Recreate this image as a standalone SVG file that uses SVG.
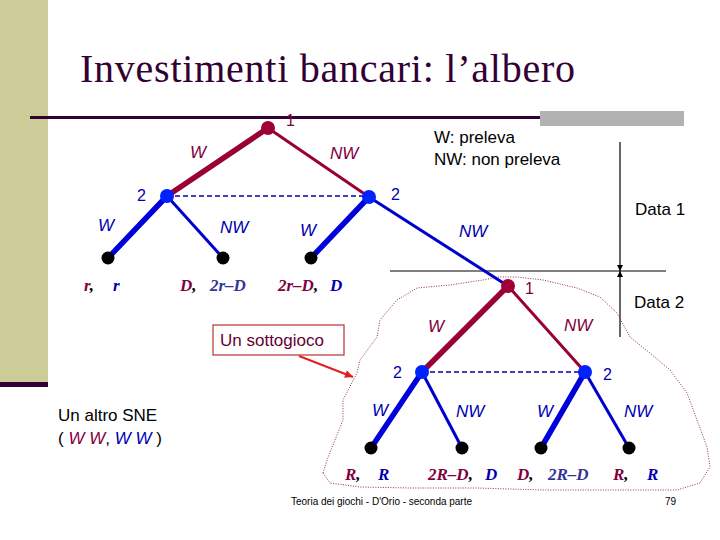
<svg xmlns="http://www.w3.org/2000/svg" width="720" height="540" viewBox="0 0 720 540">
<defs>
<style>
.sans{font-family:"Liberation Sans",Arial,sans-serif}
.lab{font-family:"Liberation Sans",Arial,sans-serif;font-style:italic;font-size:17px}
.pay{font-family:"Liberation Serif","Times New Roman",serif;font-style:italic;font-weight:bold;font-size:17px}
.m{fill:#800040}
.b{fill:#0000B0}
.bd{fill:#333399}
.num{font-family:"Liberation Sans",Arial,sans-serif;font-size:16px}
.e1t{stroke:#990033;stroke-width:5.5;stroke-linecap:round}
.e1n{stroke:#990033;stroke-width:3}
.e2t{stroke:#0000DD;stroke-width:5.5;stroke-linecap:round}
.e2n{stroke:#0000CC;stroke-width:3}
.dash{stroke:#0000AA;stroke-width:1.3;stroke-dasharray:5,3}
.n1{fill:#A00038}
.n2{fill:#0022FF}
.nt{fill:#000}
</style>
<marker id="tri" viewBox="0 0 10 10" refX="10" refY="5" markerWidth="6" markerHeight="6" orient="auto" markerUnits="userSpaceOnUse">
<path d="M0,0 L10,5 L0,10 z" fill="#000"/>
</marker>
<marker id="red" viewBox="0 0 10 10" refX="10" refY="5" markerWidth="10" markerHeight="8" orient="auto" markerUnits="userSpaceOnUse">
<path d="M0,0 L10,5 L0,10 z" fill="#E02020"/>
</marker>
</defs>
<rect width="720" height="540" fill="#fff"/>
<rect x="0" y="0" width="48" height="384" fill="#CCCC99"/>
<rect x="0" y="382" width="48" height="5" fill="#330033"/>
<line x1="30" y1="117.5" x2="541" y2="117.5" stroke="#330033" stroke-width="3"/>
<rect x="540" y="111" width="144" height="15" fill="#B2B2B2"/>
<text x="80" y="82" font-family="Liberation Serif,'Times New Roman',serif" font-size="40" fill="#330033" textLength="495">Investimenti bancari: l’albero</text>

<text class="sans" x="434" y="143" font-size="17">W: preleva</text>
<text class="sans" x="434" y="165" font-size="17">NW: non preleva</text>

<g id="timeline">
<line x1="390" y1="271" x2="666" y2="271" stroke="#000" stroke-width="1.2"/>
<line x1="620" y1="142" x2="620" y2="271" stroke="#000" stroke-width="1.2" marker-end="url(#tri)"/>
<line x1="620" y1="337" x2="620" y2="271" stroke="#000" stroke-width="1.2" marker-end="url(#tri)"/>
<text class="sans" x="635" y="215" font-size="17">Data 1</text>
<text class="sans" x="634" y="308" font-size="17">Data 2</text>
</g>

<path id="cloud" d="M323,473 L327,460 L343,420 L343,400 L357,373 L360,360 L377,337 L380,320 L397,300 L417,288 L450,285 L483,280 L497,277 L517,277 L543,280 L577,288 L600,297 L617,313 L630,337 L650,353 L670,370 L687,393 L697,420 L707,447 L710,467 L700,483 L677,490 L610,490 L543,490 L477,488 L410,488 L360,487 L330,483 Z" fill="none" stroke="#993333" stroke-width="1" stroke-dasharray="1,1.5"/>

<g id="connectors" fill="none">
<line class="e1t" x1="268" y1="128" x2="167" y2="196"/>
<line class="e1n" x1="268" y1="128" x2="369" y2="197"/>
<line class="dash" x1="167" y1="196" x2="369" y2="196"/>
<line class="e2t" x1="167" y1="196" x2="108" y2="258"/>
<line class="e2n" x1="167" y1="196" x2="223" y2="258"/>
<line class="e2t" x1="369" y1="197" x2="311" y2="258"/>
<line class="e2n" x1="369" y1="197" x2="508" y2="286"/>
<line class="e1t" x1="508" y1="286" x2="422" y2="372"/>
<line class="e1n" x1="508" y1="286" x2="585" y2="372"/>
<line class="dash" x1="422" y1="372" x2="585" y2="372"/>
<line class="e2t" x1="422" y1="372" x2="371" y2="448"/>
<line class="e2n" x1="422" y1="372" x2="462" y2="448"/>
<line class="e2t" x1="585" y1="372" x2="541" y2="448"/>
<line class="e2n" x1="585" y1="372" x2="629" y2="448"/>
<line x1="299" y1="356" x2="353" y2="377" stroke="#E02020" stroke-width="2" marker-end="url(#red)"/>
</g>

<g id="edge-labels">
<text class="lab m" x="190" y="158">W</text>
<text class="lab m" x="330" y="159">NW</text>
<text class="lab b" x="98" y="231">W</text>
<text class="lab b" x="220" y="233">NW</text>
<text class="lab b" x="300" y="236">W</text>
<text class="lab b" x="459" y="237">NW</text>
<text class="lab m" x="428" y="332">W</text>
<text class="lab m" x="564" y="331">NW</text>
<text class="lab b" x="372" y="416">W</text>
<text class="lab b" x="456" y="417">NW</text>
<text class="lab b" x="537" y="417">W</text>
<text class="lab b" x="624" y="417">NW</text>
</g>

<g id="root"><circle class="n1" cx="268" cy="128" r="7"/><text class="num m" x="286" y="126" font-size="14">1</text></g>
<g id="p2-left"><circle class="n2" cx="167" cy="196" r="7"/><text class="num b" x="137" y="201">2</text></g>
<g id="p2-right"><circle class="n2" cx="369" cy="197" r="7"/><text class="num b" x="391" y="200">2</text></g>
<g id="t1"><circle class="nt" cx="108" cy="258" r="6.5"/></g>
<g id="t2"><circle class="nt" cx="223" cy="258" r="6.5"/></g>
<g id="t3"><circle class="nt" cx="311" cy="258" r="6.5"/></g>
<g id="p1-lower"><circle class="n1" cx="508" cy="286" r="7"/><text class="num m" x="525" y="294">1</text></g>
<g id="q2-left"><circle class="n2" cx="422" cy="372" r="7"/><text class="num b" x="393" y="378">2</text></g>
<g id="q2-right"><circle class="n2" cx="585" cy="372" r="7"/><text class="num b" x="603" y="380">2</text></g>
<g id="u1"><circle class="nt" cx="371" cy="448" r="6.5"/></g>
<g id="u2"><circle class="nt" cx="462" cy="448" r="6.5"/></g>
<g id="u3"><circle class="nt" cx="541" cy="448" r="6.5"/></g>
<g id="u4"><circle class="nt" cx="629" cy="448" r="6.5"/></g>

<g id="payoffs">
<text class="pay" x="84" y="291"><tspan class="m">r</tspan><tspan fill="#000">,</tspan></text>
<text class="pay b" x="113" y="291">r</text>
<text class="pay" x="180" y="291"><tspan class="m">D</tspan><tspan fill="#000">,</tspan></text>
<text class="pay bd" x="210" y="291">2r–D</text>
<text class="pay" x="278" y="291"><tspan class="m">2r–D</tspan><tspan fill="#000">,</tspan></text>
<text class="pay b" x="330" y="291">D</text>
<text class="pay" x="345" y="480"><tspan class="m">R</tspan><tspan fill="#000">,</tspan></text>
<text class="pay b" x="378" y="480">R</text>
<text class="pay" x="428" y="480"><tspan class="m">2R–D</tspan><tspan fill="#000">,</tspan></text>
<text class="pay b" x="485" y="480">D</text>
<text class="pay" x="517" y="480"><tspan class="m">D</tspan><tspan fill="#000">,</tspan></text>
<text class="pay bd" x="548" y="480">2R–D</text>
<text class="pay" x="613" y="480"><tspan class="m">R</tspan><tspan fill="#000">,</tspan></text>
<text class="pay b" x="647" y="480">R</text>
</g>

<g id="sottogioco">
<rect x="213" y="325" width="131" height="30" fill="#fff" stroke="#C04040" stroke-width="1.3"/>
<text class="sans" x="220" y="346" font-size="17" fill="#660033">Un sottogioco</text>
</g>

<g id="sne">
<text class="sans" x="58" y="421" font-size="17">Un altro SNE</text>
<text class="sans" x="58" y="444" font-size="17">( <tspan class="m" font-style="italic">W W</tspan>, <tspan class="b" font-style="italic">W W</tspan> )</text>
</g>

<text class="sans" x="291" y="505" font-size="10" textLength="181">Teoria dei giochi - D'Orio - seconda parte</text>
<text class="sans" x="665" y="505" font-size="10">79</text>
</svg>
